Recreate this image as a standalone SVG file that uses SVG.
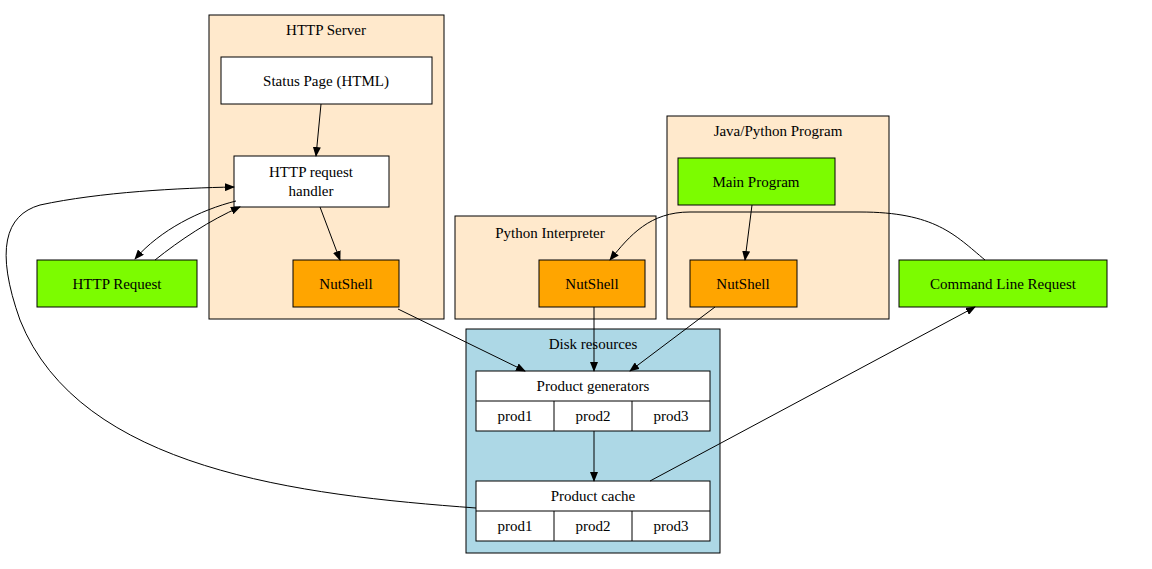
<svg xmlns="http://www.w3.org/2000/svg" width="1152" height="569" viewBox="0 0 1152 569">
<defs>
<marker id="ah" markerWidth="10" markerHeight="8" refX="9" refY="4" orient="auto" markerUnits="userSpaceOnUse"><path d="M0,0 L10,4 L0,8 Z" fill="#000"/></marker>
<style>
text{font-family:"Liberation Serif",serif;font-size:15px;text-anchor:middle;fill:#000}
.c{stroke:#000;stroke-width:1}
.bis{fill:#FFE9CC}
.w{fill:#fff;stroke:#000}
.o{fill:#FFA500;stroke:#000}
.g{fill:#7CFC00;stroke:#000}
.e{fill:none;stroke:#000;stroke-width:1;marker-end:url(#ah)}
</style>
</defs>
<rect width="1152" height="569" fill="#fff"/>
<g id="cluster_http"><rect class="c bis" x="209" y="15" width="235" height="304"/><text x="326" y="35">HTTP Server</text></g>
<g id="cluster_py"><rect class="c bis" x="455" y="216" width="201" height="103"/><text x="550" y="238">Python Interpreter</text></g>
<g id="cluster_java"><rect class="c bis" x="667" y="116" width="222" height="203"/><text x="778" y="136">Java/Python Program</text></g>
<g id="cluster_disk"><rect class="c" fill="#ADD8E6" x="466" y="329" width="254" height="224"/><text x="593" y="349">Disk resources</text></g>
<g id="status"><rect class="w" x="221" y="57" width="211" height="47"/><text x="326" y="86">Status Page (HTML)</text></g>
<g id="handler"><rect class="w" x="234" y="156" width="155" height="51"/><text x="311" y="177">HTTP request</text><text x="311" y="196">handler</text></g>
<g id="ns_http"><rect class="o" x="293" y="260" width="106" height="47"/><text x="346" y="289">NutShell</text></g>
<g id="http_req"><rect class="g" x="37" y="260" width="160" height="47"/><text x="117" y="289">HTTP Request</text></g>
<g id="ns_py"><rect class="o" x="539" y="260" width="106" height="47"/><text x="592" y="289">NutShell</text></g>
<g id="main"><rect class="g" x="678" y="158" width="157" height="47"/><text x="756" y="187">Main Program</text></g>
<g id="ns_java"><rect class="o" x="690" y="260" width="107" height="47"/><text x="743" y="289">NutShell</text></g>
<g id="cmd"><rect class="g" x="899" y="260" width="208" height="47"/><text x="1003" y="289">Command Line Request</text></g>
<g id="gen"><rect class="w" x="476" y="371" width="234" height="60"/><path class="c" d="M476,401H710M554,401V431M632,401V431"/><text x="593" y="391">Product generators</text><text x="515" y="421">prod1</text><text x="593" y="421">prod2</text><text x="671" y="421">prod3</text></g>
<g id="cache"><rect class="w" x="476" y="481" width="234" height="60"/><path class="c" d="M476,511H710M554,511V541M632,511V541"/><text x="593" y="501">Product cache</text><text x="515" y="531">prod1</text><text x="593" y="531">prod2</text><text x="671" y="531">prod3</text></g>
<g id="edges">
<path class="e" d="M321,104 L316,156"/>
<path class="e" d="M236,201 C200,210 160,230 135,259"/>
<path class="e" d="M155,260 C180,240 210,220 240,207"/>
<path class="e" d="M320,207 L340,260"/>
<path class="e" d="M752,205 L745,260"/>
<path class="e" d="M398,309 L525,371"/>
<path class="e" d="M594,307 L594,371"/>
<path class="e" d="M715,307 L630,371"/>
<path class="e" d="M594,431 L594,481"/>
<path class="e" d="M476,508 C300,495 80,470 20,320 C-5,250 5,215 40,205 C100,192 180,188 234,187"/>
<path class="e" d="M650,481 L975,307"/>
<path class="e" d="M985,260 C955,235 935,212 860,212 L690,212 C650,212 630,235 610,260"/>
</g>
</svg>
